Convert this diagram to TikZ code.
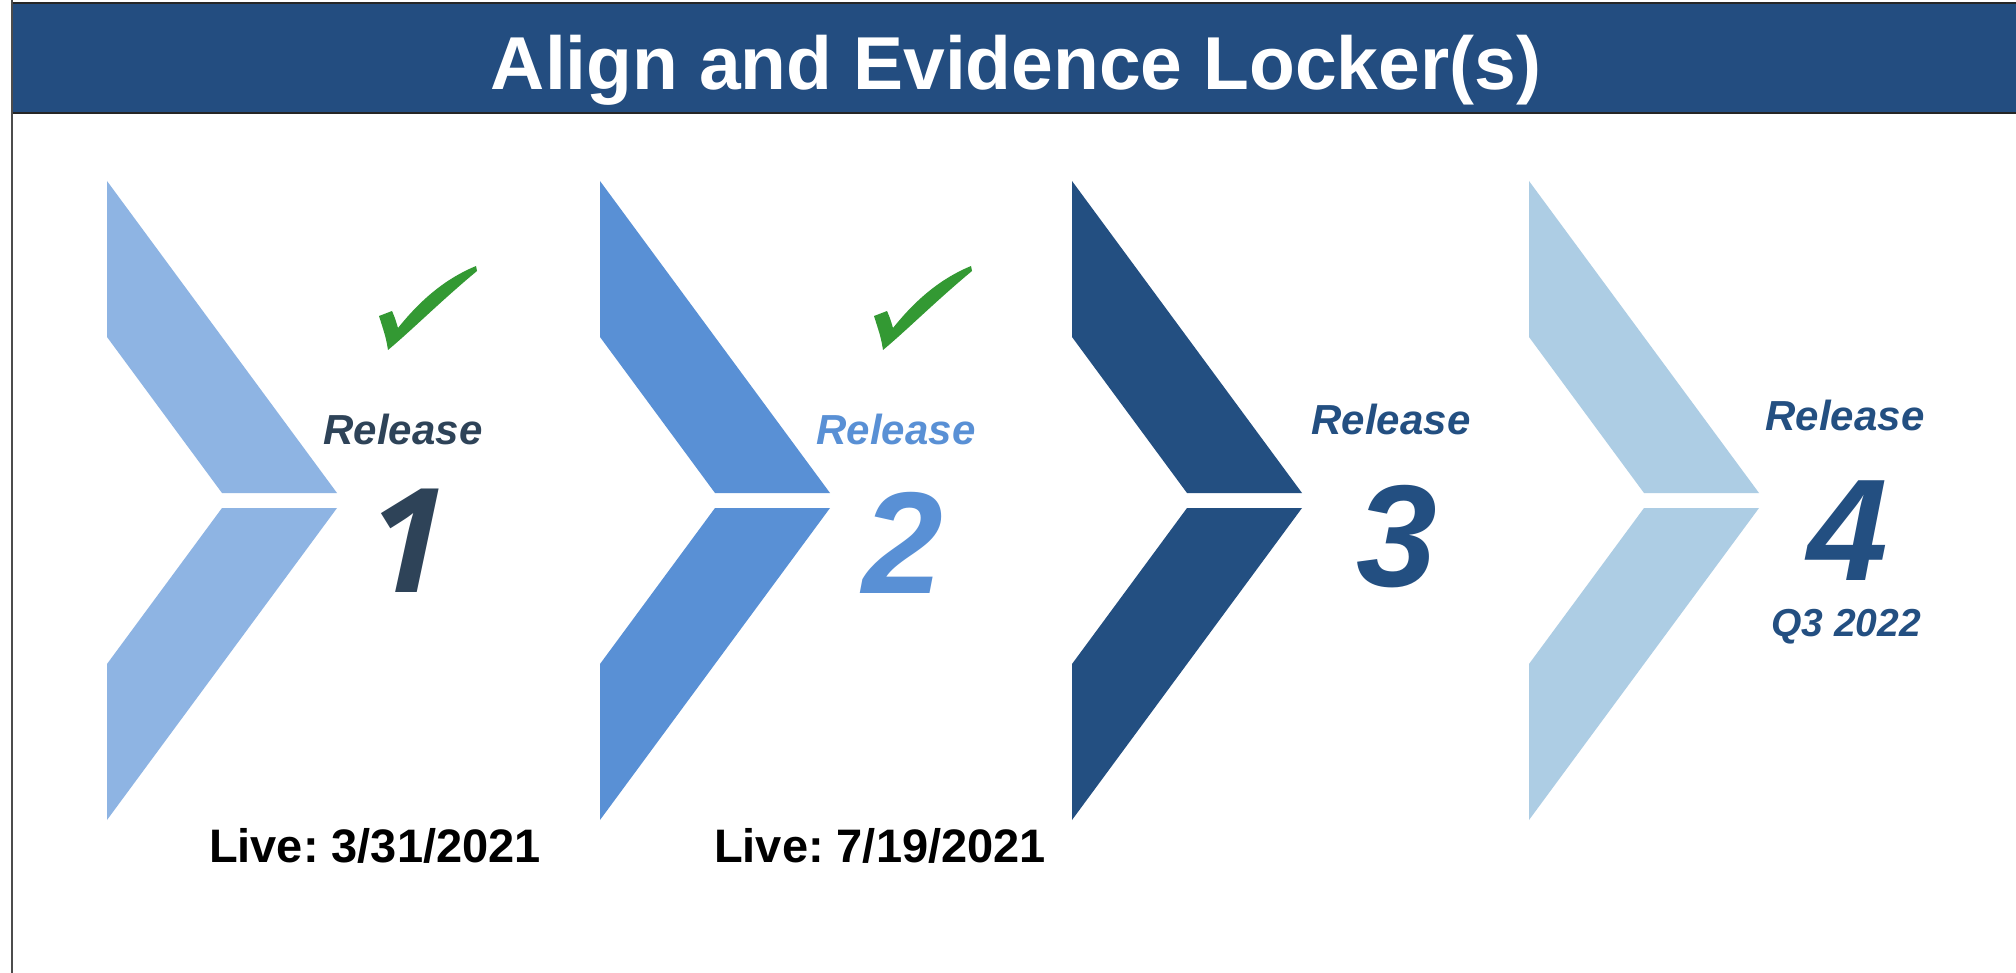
\documentclass[tikz,border=0pt]{standalone}
\usepackage{fontspec}
\setmainfont{Liberation Sans}
\newfontfamily\onefont{Open Sans}
\usetikzlibrary{positioning}
\definecolor{hdrblue}{HTML}{234D80}
\definecolor{chevA}{HTML}{8EB4E3}
\definecolor{chevB}{HTML}{5990D5}
\definecolor{chevC}{HTML}{234F81}
\definecolor{chevD}{HTML}{ADCDE4}
\definecolor{slate}{HTML}{2E4358}
\definecolor{tickgreen}{HTML}{339933}
\frenchspacing

\begin{document}
\begin{tikzpicture}[x=1pt,y=-1pt,
    title/.style={text=white,font=\fontsize{75}{80}\selectfont\bfseries,anchor=base,inner sep=0pt},
    relname/.style={font=\fontsize{42}{46}\selectfont\bfseries\itshape,anchor=base,inner sep=0pt},
    relnum/.style={font=\fontsize{145}{150}\selectfont\bfseries\itshape,anchor=base,inner sep=0pt},
    livedate/.style={font=\fontsize{47}{50}\selectfont\bfseries,anchor=base,inner sep=0pt}]
    \useasboundingbox (0,0) rectangle (2016,973);
    \fill[white] (0,0) rectangle (2016,973);

    % header band
    \fill[hdrblue] (12,4) rectangle (2016,113);
    \draw[line width=2pt,black!85] (12,113) -- (2016,113);
    \draw[line width=1.5pt,black!85] (12,3) -- (2016,3);
    \draw[line width=2pt,black!70] (12,0) -- (12,973);
    \node[title] (title) at (1016,90) {Align and Evidence Locker(s)};

    % chevrons
    \fill[chevA] (107,181) -- ++(230,312) -- ++(-115,0) -- ++(-115,-156) -- cycle;
    \fill[chevA] (222,508) -- ++(115,0) -- ++(-230,312) -- ++(0,-156) -- cycle;
    \fill[chevB] (600,181) -- ++(230,312) -- ++(-115,0) -- ++(-115,-156) -- cycle;
    \fill[chevB] (715,508) -- ++(115,0) -- ++(-230,312) -- ++(0,-156) -- cycle;
    \fill[chevC] (1072,181) -- ++(230,312) -- ++(-115,0) -- ++(-115,-156) -- cycle;
    \fill[chevC] (1187,508) -- ++(115,0) -- ++(-230,312) -- ++(0,-156) -- cycle;
    \fill[chevD] (1529,181) -- ++(230,312) -- ++(-115,0) -- ++(-115,-156) -- cycle;
    \fill[chevD] (1644,508) -- ++(115,0) -- ++(-230,312) -- ++(0,-156) -- cycle;

    % ticks
    \begin{scope}[shift={(387,350)}]
        \fill[tickgreen] (-8,-34) -- (5,-39) .. controls (8,-32) .. (11,-22)
            .. controls (35,-52) and (60,-72) .. (89,-84) -- (90,-79)
            .. controls (55,-50) and (25,-20) .. (1,0)
            .. controls (-1,-12) .. (-8,-34) -- cycle;
    \end{scope}
    \begin{scope}[shift={(882,350)}]
        \fill[tickgreen] (-8,-34) -- (5,-39) .. controls (8,-32) .. (11,-22)
            .. controls (35,-52) and (60,-72) .. (89,-84) -- (90,-79)
            .. controls (55,-50) and (25,-20) .. (1,0)
            .. controls (-1,-12) .. (-8,-34) -- cycle;
    \end{scope}

    % release labels
    \node[relname,text=slate] (rel1) at (403,444) {Release};
    \node[relnum,font=\onefont\fontsize{145}{150}\selectfont\bfseries\itshape,text=slate] (num1) at (408,592) {1};
    \node[relname,text=chevB] (rel2) at (896,444) {Release};
    \node[relnum,text=chevB] (num2) at (903,593) {2};
    \node[relname,text=chevC] (rel3) at (1391,435) {Release};
    \node[relnum,text=chevC] (num3) at (1397,586) {3};
    \node[relname,text=chevC] (rel4) at (1845,430) {Release};
    \node[relnum,text=chevC] (num4) at (1848,580) {4};
    \node[font=\fontsize{39}{42}\selectfont\bfseries\itshape,anchor=base,inner sep=0pt,text=chevC] (date4) at (1846,636) {Q3 2022};

    % go-live dates
    \node[livedate] (live1) at (375,862) {Live: 3/31/2021};
    \node[livedate] (live2) at (880,862) {Live: 7/19/2021};
\end{tikzpicture}
\end{document}
